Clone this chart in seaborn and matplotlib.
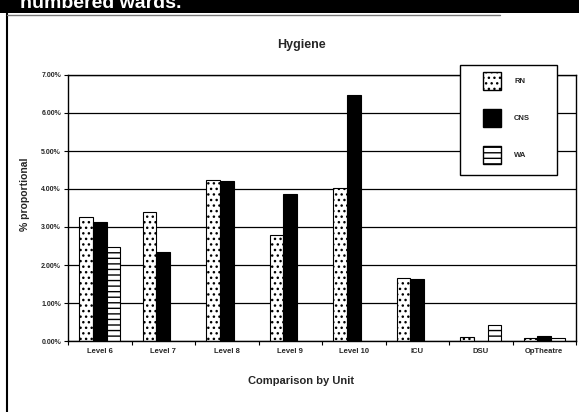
import numpy as np
import pandas as pd
import matplotlib
matplotlib.use("Agg")
import matplotlib.pyplot as plt
from matplotlib.patches import Patch, Rectangle
from matplotlib.lines import Line2D
from matplotlib.ticker import FixedLocator, PercentFormatter
import seaborn as sns

units = ["Level 6", "Level 7", "Level 8", "Level 9", "Level 10", "ICU", "DSU", "OpTheatre"]
series = ["RN", "CNS", "WA"]
rn = [3.27, 3.39, 4.23, 2.80, 4.02, 1.66, 0.10, 0.08]
cns = [3.14, 2.33, 4.22, 3.86, 6.48, 1.63, np.nan, 0.13]
wa = [2.48, np.nan, np.nan, np.nan, np.nan, np.nan, 0.43, 0.08]
yticks = [0, 1, 2, 3, 4, 5, 6, 7]

sns.set_theme(style="white")
FAM = ["Liberation Sans Narrow", "Liberation Sans", "DejaVu Sans"]
plt.rcParams["font.family"] = FAM
plt.rcParams["hatch.linewidth"] = 1.0

df = pd.DataFrame({
    "Unit": units * 3,
    "Series": sum([[s] * len(units) for s in series], []),
    "Value": rn + cns + wa,
})

W, H = 579, 412
fig = plt.figure(figsize=(W / 100, H / 100), dpi=100)
ax = fig.add_axes([68 / W, 71 / H, (576 - 68) / W, (341 - 75) / H])

sns.barplot(data=df, x="Unit", y="Value", hue="Series", order=units,
            hue_order=series, palette=["white", "black", "white"],
            width=0.64, edgecolor="black", linewidth=0.8, ax=ax,
            legend=False, errorbar=None, saturation=1)

hatches = ["...", None, "---"]
for cont, h in zip(ax.containers, hatches):
    for p in cont.patches:
        if h:
            p.set_hatch(h)

ax.set_ylim(0, 7)
ax.set_xlim(-0.5, len(units) - 0.5)
ax.yaxis.set_major_locator(FixedLocator(yticks))
ax.yaxis.set_major_formatter(PercentFormatter(decimals=2))
ax.grid(axis="y", color="black", linewidth=0.9)
ax.set_axisbelow(True)
for s in ax.spines.values():
    s.set_color("black")
    s.set_linewidth(1.0)

ax.tick_params(axis="y", which="major", left=True, length=3, width=0.8,
               labelsize=5, pad=2, color="black")
ax.tick_params(axis="x", which="major", length=0, labelsize=5.5, pad=5)
ax.set_xticks(np.arange(-0.5, len(units), 1.0), minor=True)
ax.tick_params(axis="x", which="minor", bottom=True, length=3, width=0.8, color="black")
for lab in ax.get_xticklabels() + ax.get_yticklabels():
    lab.set_fontweight("bold")

ax.set_xlabel("")
ax.set_ylabel("% proportional", fontsize=7.5, fontweight="bold")
ax.yaxis.set_label_coords(-0.075, 0.55)

fig.text(0.52, 1 - 45 / H, "Hygiene", ha="center", va="center", fontsize=9, fontweight="bold")
fig.text(0.52, 1 - 381 / H, "Comparison by Unit", ha="center", va="center", fontsize=8, fontweight="bold")

# top banner
fig.patches.append(Rectangle((0, 1 - 13 / H), 1, 13 / H, transform=fig.transFigure,
                             facecolor="black", edgecolor="none", zorder=0))
fig.text(20 / W, 1 - 8 / H, "numbered wards.", color="white", fontsize=14,
         fontweight="bold", ha="left", va="baseline")
fig.lines.append(Line2D([6.5 / W, 6.5 / W], [0, 1 - 13 / H], transform=fig.transFigure,
                        color="black", linewidth=1.5))
fig.lines.append(Line2D([6.5 / W, 500 / W], [1 - 15 / H, 1 - 15 / H],
                        transform=fig.transFigure, color="#777777", linewidth=1.0))

# legend box (white, covers grid)
fig.patches.append(Rectangle((460 / W, 1 - 175 / H), 97 / W, 110 / H, transform=fig.transFigure,
                             facecolor="white", edgecolor="black", linewidth=1.0, zorder=3))
handles = [Patch(facecolor="white", edgecolor="black", hatch="..."),
           Patch(facecolor="black", edgecolor="black"),
           Patch(facecolor="white", edgecolor="black", hatch="---")]
leg = fig.legend(handles, series, loc="upper left", bbox_to_anchor=(483 / W, 1 - 72 / H),
                 bbox_transform=fig.transFigure, frameon=False,
                 handlelength=2.36, handleheight=3.26, labelspacing=2.48, handletextpad=1.7,
                 borderpad=0, borderaxespad=0, prop={"size": 5.5, "weight": "bold"})
leg.set_zorder(4)

fig.savefig("out.png", dpi=100)
